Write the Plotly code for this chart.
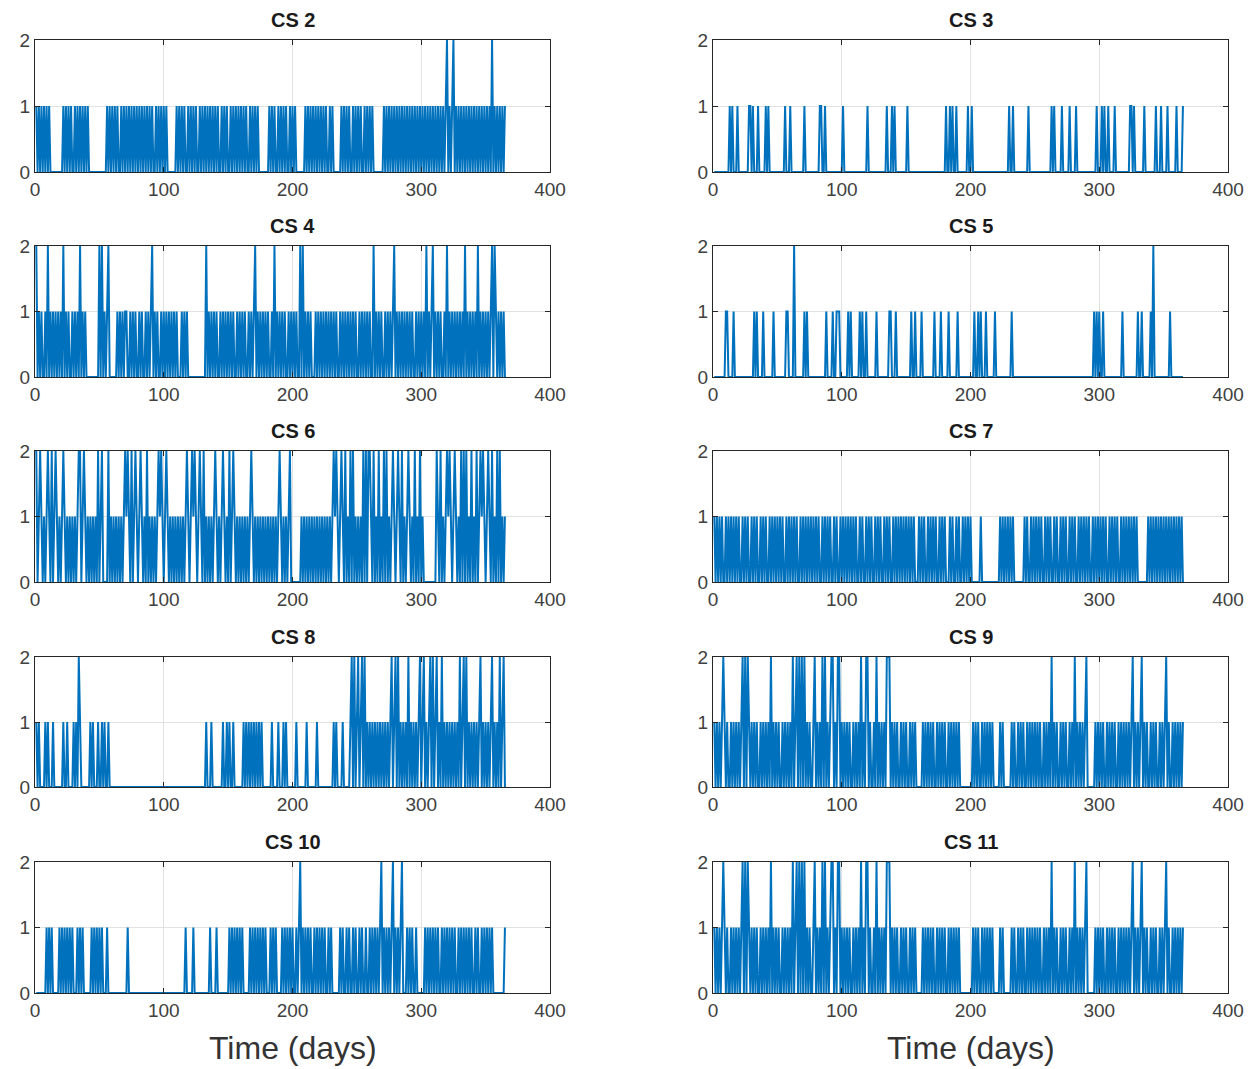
import plotly.graph_objects as go

# ---------------- data (daily values, day 1..365) ----------------
CS2 = """
1010101010 1000000000 0101010100 1010101010 1000000000
0000010101 0101001010 1010101010 1010101010 1001010101
0100000001 0101010010 1010100101 0101010101 0100101010
0101010101 0101001010 1010000000 0101010010 1010100101
0100000001 0101010101 0101010010 1000000101 0101001010
1010010101 0100000000 1010101010 1010101010 1010101010
1010101010 1010101012 0101201010 1010101010 1010101010
1010201010 10101
"""

CS3_days_one = [13, 15, 19, 28, 29, 31, 35, 41, 43, 56, 60, 71, 83, 84, 87, 101,
                120, 135, 139, 141, 151, 181, 184, 186, 189, 198, 201, 230, 233,
                245, 263, 265, 271, 277, 282, 298, 302, 304, 307, 312, 324, 325,
                327, 335, 344, 348, 353, 360, 365]
CS3_days_two = []

CS4 = """
2010100102 0101010101 0201010010 1010201010 0000000002
0201012000 0001010101 1001010100 1010010101 2010100101
0101010101 0001010100 0000000000 0020101010 1001010101
0101001010 1010010101 2010101010 1001020101 0101001010
1010020201 0101000101 0101010101 0101001010 1010101010
0101010101 0020101010 0101010120 1010101010 1010010101
0102010120 1010100102 0101010101 0102010101 0102010101
0101202101 01010
"""

CS5_days_one = [10, 11, 16, 32, 34, 39, 47, 57, 58, 71, 73, 88, 93, 96, 97, 98,
                105, 107, 114, 116, 119, 127, 137, 138, 142, 154, 157, 162, 172,
                177, 183, 190, 203, 206, 208, 212, 219, 232, 296, 298, 300, 303,
                318, 330, 333, 340, 355]
CS5_days_two = [63, 342]

CS6 = """
2012101012 1020121010 1210101010 1012201210 1010101020
1200002010 1010101012 1210201210 1210102010 1010121210
1210101010 1010101210 1212101210 2010101012 1010121010
2012101010 1010101210 1010101010 1010101012 1010101200
0000001010 1010101010 1010101010 1212101210 2010202010
1010202022 1020102010 2020101210 1210201012 1010201020
1000000000 0210201012 1210121010 2020201020 1020121210
1210201020 20101
"""

CS7 = """
1010101001 0101010101 0010101001 0101001010 1001010101
0101001010 1010100101 0101010101 0100101010 1001010010
1010101010 1001010010 1010010101 0010101001 0101010101
0101010001 0101001010 1010010101 0001010010 1001010101
0000000100 0000000000 0010101010 1010000000 0101001010
1010100101 0100101001 0101001010 1001010101 0100101010
1010100101 0101001010 1010101010 0000000101 0101010101
0101010101 01010
"""

CS8 = """
1010000101 0001000000 0100100001 0102100000 0010100010
0101001000 0000000000 0000000000 0000000000 0000000000
0000000000 0000000000 0000000000 0010001000 0000010010
1001000000 0101010101 0101010000 0001000010 0010100000
0010000000 1000000010 0000000000 0101000010 0000120201
2012020101 0101010101 0101012012 0201010102 0101010120
1201012020 1201020101 0101010102 0120201010 1010120101
0101201010 20120
"""

CS9 = """
1010101210 1001010101 0120202101 0101001010 1010201010
1001010101 0201202020 2010100120 1010202010 1220102201
0101010010 1010201022 0100102010 1010222010 1010010101
0010101000 0010101010 1001010101 0010101010 1000000000
0101010010 1010101000 0010100000 0101001010 1001010101
0101001010 1020101001 0101001010 2010101012 0000001010
1010010101 0100101010 1010120101 0120101001 0101001010
1201001010 10101
"""

CS10 = """
0000000010 1010000010 1010101010 0010101000 0001010101
0100010000 0000000000 0100000000 0000000000 0000000000
0000000000 0000001000 0010000000 0000010000 1000000000
1010101010 1000001010 1010101010 0010101000 0101010101
0010120101 0101001010 1010100101 0000001010 0101001010
0101001001 0101010120 1010101201 0101200010 1010010000
0010101010 1010010101 0101010010 1010101010 0101001010
1010100000 00001
"""

CS11 = """
1010101210 1001010101 0120202101 0101001010 1010201010
1001010101 0201202020 2010100120 1010202010 1220102201
0101010010 1010201022 0100102010 1010222010 1010010101
0010101000 0010101010 1001010101 0010101010 1000000000
0101010010 1010101000 0010100000 0101001010 1001010101
0101001010 1020101001 0101001010 2010101012 0000001010
1010010101 0100101010 1010120101 0120101001 0101001010
1201001010 10101
"""

titles = ["CS 2", "CS 3", "CS 4", "CS 5", "CS 6",
          "CS 7", "CS 8", "CS 9", "CS 10", "CS 11"]
x_ticks = [0, 100, 200, 300, 400]
y_ticks = [0, 1, 2]
x_label = "Time (days)"
N_DAYS = 365


def parse(s):
    return [int(c) for c in s if c in "012"]


def from_events(ones, twos):
    v = [0] * N_DAYS
    for d in ones:
        v[d - 1] = 1
    for d in twos:
        v[d - 1] = 2
    return v


series = [
    parse(CS2),
    from_events(CS3_days_one, CS3_days_two),
    parse(CS4),
    from_events(CS5_days_one, CS5_days_two),
    parse(CS6),
    parse(CS7),
    parse(CS8),
    parse(CS9),
    parse(CS10),
    parse(CS11),
]

# ---------------- layout ----------------
W, H = 1254, 1069
col_x = [(35, 550), (713, 1228)]
row_y = [(40, 172), (246, 377), (451, 582), (657, 787), (862, 993)]

FONT = "Liberation Sans, Arial, Helvetica, sans-serif"
BLUE = "#0072BD"

fig = go.Figure()
layout = dict(
    width=W, height=H,
    margin=dict(l=0, r=0, t=0, b=0),
    paper_bgcolor="white", plot_bgcolor="white",
    showlegend=False,
    font=dict(family=FONT, color="#262626"),
    annotations=[],
)

for i, vals in enumerate(series):
    r, c = divmod(i, 2)
    xs = list(range(1, len(vals) + 1))
    sfx = "" if i == 0 else str(i + 1)
    fig.add_trace(go.Scatter(
        x=xs, y=vals, mode="lines",
        line=dict(color=BLUE, width=2),
        xaxis="x" + sfx, yaxis="y" + sfx,
        hoverinfo="skip",
    ))
    x0, x1 = col_x[c]
    yt, yb = row_y[r]
    common = dict(
        showline=True, linecolor="#262626", linewidth=1, mirror="ticks",
        ticks="inside", ticklen=5, tickcolor="#262626", tickwidth=1,
        showgrid=True, gridcolor="#e2e2e2", gridwidth=1,
        zeroline=False, automargin=False, fixedrange=True,
        tickfont=dict(family=FONT, size=19, color="#404040"),
    )
    layout["xaxis" + sfx] = dict(
        common, domain=[x0 / W, x1 / W], range=[0, 400],
        tickmode="array", tickvals=x_ticks, anchor="y" + sfx,
    )
    layout["yaxis" + sfx] = dict(
        common, domain=[1 - yb / H, 1 - yt / H], range=[0, 2],
        tickmode="array", tickvals=y_ticks, anchor="x" + sfx,
    )
    layout["annotations"].append(dict(
        text="<b>%s</b>" % titles[i], xref="paper", yref="paper",
        x=(x0 + x1) / 2 / W, y=1 - (yt - 20) / H,
        xanchor="center", yanchor="middle", showarrow=False,
        font=dict(family=FONT, size=20, color="#1a1a1a"),
    ))

for c in range(2):
    x0, x1 = col_x[c]
    layout["annotations"].append(dict(
        text=x_label, xref="paper", yref="paper",
        x=(x0 + x1) / 2 / W, y=1 - 1048 / H,
        xanchor="center", yanchor="middle", showarrow=False,
        font=dict(family=FONT, size=32, color="#333333"),
    ))

fig.update_layout(**layout)
fig.write_html(
    "out.html",
    config={"displayModeBar": False},
    post_script="document.body.style.margin='0';document.body.style.padding='0';"
                "document.body.style.overflow='hidden';",
)
